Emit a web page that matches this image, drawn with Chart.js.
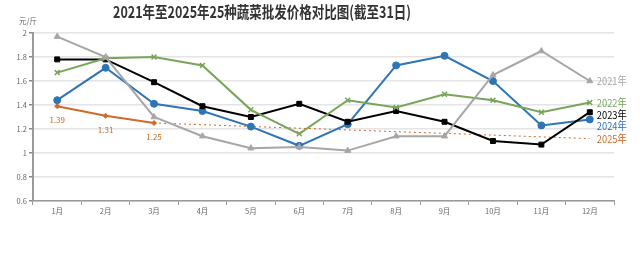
<!DOCTYPE html>
<html><head><meta charset="utf-8">
<script src="https://cdn.jsdelivr.net/npm/chart.js@4/dist/chart.umd.min.js"></script>
<style>html,body{margin:0;padding:0;background:#fff}canvas{display:block}</style>
</head><body>
<canvas id="c" width="640" height="266"></canvas>
<script>
const categories = ['1月','2月','3月','4月','5月','6月','7月','8月','9月','10月','11月','12月'];
const y2021 = [1.97,1.80,1.30,1.14,1.04,1.05,1.02,1.14,1.14,1.65,1.85,1.60];
const y2022 = [1.67,1.79,1.80,1.73,1.36,1.16,1.44,1.38,1.49,1.44,1.34,1.42];
const y2023 = [1.78,1.78,1.59,1.39,1.30,1.41,1.26,1.35,1.26,1.10,1.07,1.34];
const y2024 = [1.44,1.71,1.41,1.35,1.22,1.06,1.24,1.73,1.81,1.60,1.23,1.28];
const y2025 = [1.39,1.31,1.25,null,null,null,null,null,null,null,null,null];
const trend2025 = [null,null,1.25,null,null,null,null,null,null,null,null,1.12];
const seriesNames = ['2021年','2022年','2023年','2024年','2025年'];
const yTicks = [0.6,0.8,1,1.2,1.4,1.6,1.8,2];
const titleText = '2021年至2025年25种蔬菜批发价格对比图(截至31日)';
const unitText = '元/斤';

const FONT = '"Noto Sans CJK SC", "Noto Sans", sans-serif';
const colors = {c2021:'#a6a6a6', c2022:'#78a55a', c2023:'#000000', c2024:'#2e75b6', c2025:'#d0692a'};

const ds = (label, data, color, style, r) => ({
  label, data, borderColor: color, backgroundColor: color, borderWidth: 2,
  pointStyle: style, pointRadius: r, pointHoverRadius: r, pointBorderWidth: style==='crossRot'?1.5:1,
  tension: 0, spanGaps: false
});

const overlay = {
  id: 'overlay',
  afterDraw(chart) {
    const {ctx, scales} = chart;
    const x = scales.x, y = scales.y;
    ctx.save();
    ctx.fillStyle = '#333';
    ctx.font = 'bold 16px ' + FONT;
    ctx.textAlign = 'center'; ctx.textBaseline = 'middle';
    ctx.fillText(titleText, 262, 12, 298);
    ctx.fillStyle = '#666';
    ctx.font = '8px ' + FONT;
    ctx.textAlign = 'left';
    ctx.fillText(unitText, 19, 21, 18);
    const meta = chart.getDatasetMeta(4);
    ctx.fillStyle = colors.c2025;
    ctx.font = '8px ' + FONT;
    ctx.textAlign = 'center';
    y2025.forEach((v, i) => {
      if (v == null) return;
      const pt = meta.data[i];
      ctx.fillText(v.toFixed(2), pt.x, pt.y + 14);
    });
    const last = categories.length - 1;
    const ends = [y2021[last], y2022[last], y2023[last], y2024[last], trend2025[last]];
    const nudges = [0, 0, 3, 6, 0];
    const cols = [colors.c2021, colors.c2022, colors.c2023, colors.c2024, colors.c2025];
    ctx.font = '11px ' + FONT;
    ctx.textAlign = 'left';
    const lx = x.getPixelForValue(last) + 7;
    ends.forEach((v, i) => {
      ctx.fillStyle = cols[i];
      ctx.fillText(seriesNames[i], lx, y.getPixelForValue(v) + nudges[i], 30);
    });
    ctx.restore();
  }
};

new Chart(document.getElementById('c'), {
  type: 'line',
  data: {
    labels: categories,
    datasets: [
      ds(seriesNames[0], y2021, colors.c2021, 'triangle', 3.5),
      ds(seriesNames[1], y2022, colors.c2022, 'crossRot', 3.5),
      ds(seriesNames[2], y2023, colors.c2023, 'rect', 3.5),
      ds(seriesNames[3], y2024, colors.c2024, 'circle', 3.5),
      ds(seriesNames[4], y2025, colors.c2025, 'rectRot', 2.5),
      { label: 'trend', data: trend2025, borderColor: colors.c2025, borderWidth: 1,
        borderDash: [2, 3], pointRadius: 0, spanGaps: true, tension: 0, order: 10 }
    ]
  },
  options: {
    responsive: false, animation: false,
    layout: { padding: { top: 33, right: 26, left: 0, bottom: 0 } },
    plugins: { legend: { display: false }, title: { display: false }, tooltip: { enabled: false } },
    scales: {
      x: {
        offset: true,
        grid: { offset: true, drawOnChartArea: false, color: '#999', tickLength: 4, lineWidth: 1 },
        border: { color: '#999', width: 1.5 },
        ticks: { color: '#666', font: { family: FONT, size: 7.5 }, padding: 2, maxRotation: 0 },
        afterFit(s) { s.height = 65; }
      },
      y: {
        min: 0.6, max: 2,
        afterBuildTicks(s) { s.ticks = yTicks.map(v => ({ value: v })); },
        grid: { color: '#e4e4e4', lineWidth: 1.5, tickLength: 4, tickColor: '#888' },
        border: { color: '#999', width: 2 },
        ticks: { color: '#666', font: { family: FONT, size: 7.5 }, padding: 2, callback: v => String(+v.toFixed(1)) },
        afterFit(s) { s.width = 33; }
      }
    }
  },
  plugins: [overlay]
});
</script>
</body></html>
